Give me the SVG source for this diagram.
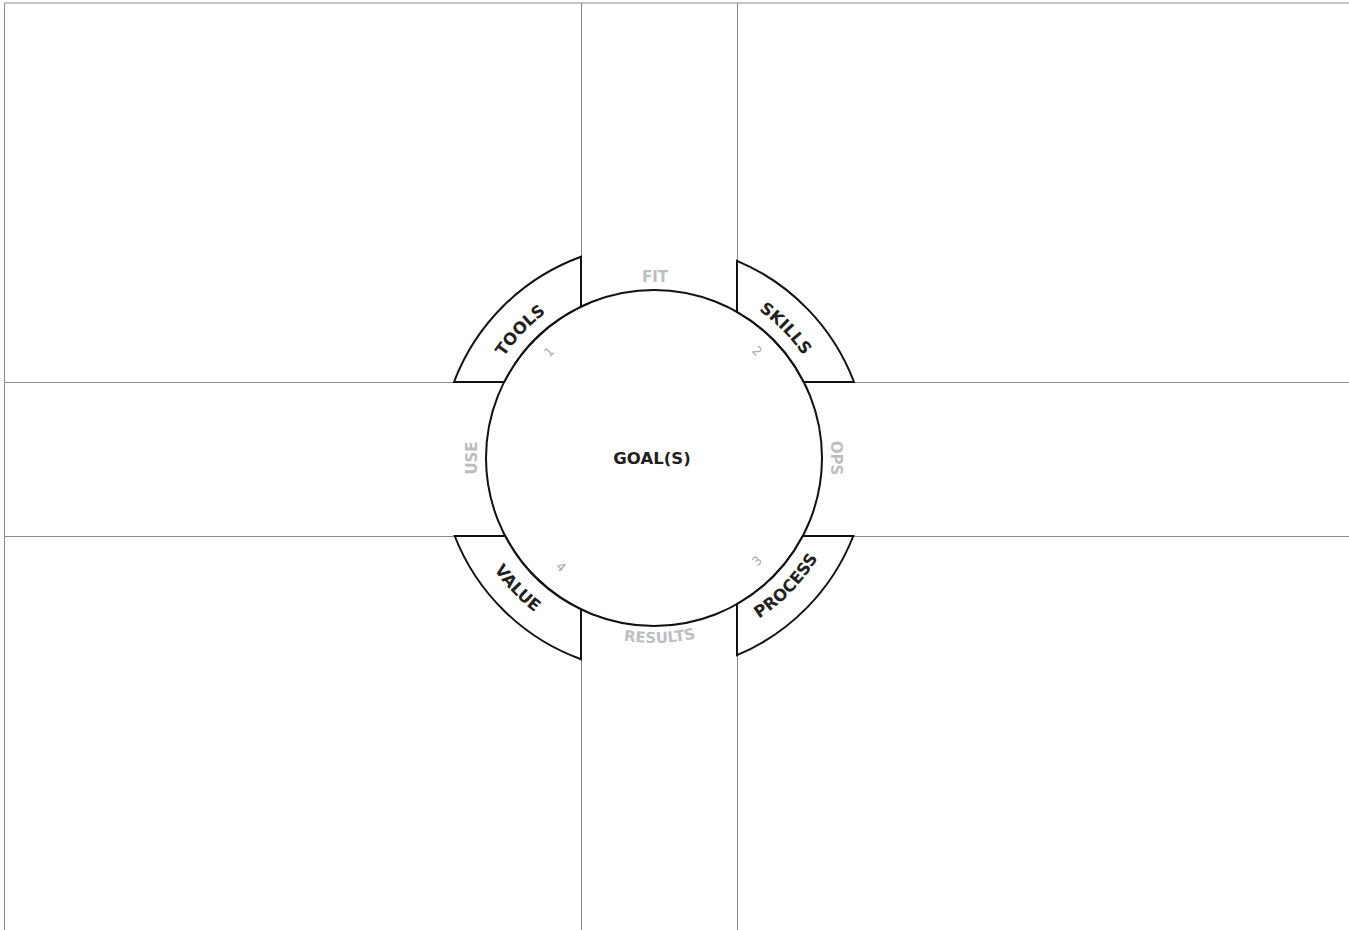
<svg xmlns="http://www.w3.org/2000/svg" width="1349" height="930" viewBox="0 0 1349 930">
<style>
.grid{stroke:#8a8a8a;stroke-width:1;fill:none}
.tab{fill:#fff;stroke:#111;stroke-width:2;stroke-linejoin:miter}
.ring{fill:#fff;stroke:#111;stroke-width:2}
.lbl{font-family:"DejaVu Sans","Noto Sans",sans-serif;font-weight:700;font-size:16.5px;fill:#231f20}
.gry{font-family:"DejaVu Sans","Noto Sans",sans-serif;font-weight:700;font-size:15px;fill:#bcbec0}
.num{font-family:"DejaVu Sans","Noto Sans",sans-serif;font-size:12.5px;fill:#a7a9ac;text-anchor:middle}
</style>
<defs>
<path id="pTools" d="M473,458 A181,181 0 0 1 654,277"/>
<path id="pSkills" d="M654,277 A181,181 0 0 1 835,458"/>
<path id="pValue" d="M459,458 A195,195 0 0 0 654,653"/>
<path id="pProcess" d="M654,650 A192,192 0 0 0 846,458"/>
<path id="pResults" d="M469,458 A185,185 0 0 0 839,458"/>
</defs>
<rect width="1349" height="930" fill="#fff"/>
<g id="connectors">
<line class="grid" x1="4.5" y1="3" x2="1349" y2="3"/>
<line class="grid" x1="4.5" y1="3" x2="4.5" y2="930"/>
<line class="grid" x1="581.5" y1="3" x2="581.5" y2="257"/>
<line class="grid" x1="581.5" y1="659" x2="581.5" y2="930"/>
<line class="grid" x1="737.5" y1="3" x2="737.5" y2="261"/>
<line class="grid" x1="737.5" y1="655" x2="737.5" y2="930"/>
<line class="grid" x1="4.5" y1="382.5" x2="454" y2="382.5"/>
<line class="grid" x1="854" y1="382.5" x2="1349" y2="382.5"/>
<line class="grid" x1="4.5" y1="536.5" x2="455" y2="536.5"/>
<line class="grid" x1="853" y1="536.5" x2="1349" y2="536.5"/>
</g>
<g id="goal">
<circle class="ring" cx="654" cy="458" r="168"/>
<text class="lbl" x="652" y="463.5" text-anchor="middle">GOAL(S)</text>
</g>
<g id="tools">
<path class="tab" d="M581,256.8 L581,306.7 A168,168 0 0 0 504.2,382 L454,382 A214,214 0 0 1 581,256.8 Z"/>
<text class="lbl" text-anchor="middle"><textPath href="#pTools" startOffset="48.5%">TOOLS</textPath></text>
<text class="num" transform="translate(552,355) rotate(-45)">1</text>
</g>
<g id="skills">
<path class="tab" d="M737,260.8 L737,311.9 A168,168 0 0 1 803.8,382 L854,382 A214,214 0 0 0 737,260.8 Z"/>
<text class="lbl" text-anchor="middle"><textPath href="#pSkills" startOffset="50.5%">SKILLS</textPath></text>
<text class="num" transform="translate(754,354) rotate(45)">2</text>
</g>
<g id="process">
<path class="tab" d="M853.3,536 L802.8,536 A168,168 0 0 1 737,604.1 L737,655.2 A214,214 0 0 0 853.3,536 Z"/>
<text class="lbl" text-anchor="middle"><textPath href="#pProcess" startOffset="51%">PROCESS</textPath></text>
<text class="num" transform="translate(760,564) rotate(-45)">3</text>
</g>
<g id="value">
<path class="tab" d="M454.7,536 L505.2,536 A168,168 0 0 0 581,609.3 L581,659.2 A214,214 0 0 1 454.7,536 Z"/>
<text class="lbl" text-anchor="middle"><textPath href="#pValue" startOffset="48.5%">VALUE</textPath></text>
<text class="num" transform="translate(558,570) rotate(45)">4</text>
</g>
<g id="fit"><text class="gry" x="655" y="282" text-anchor="middle">FIT</text></g>
<g id="use"><text class="gry" transform="translate(477,458) rotate(-90)" text-anchor="middle">USE</text></g>
<g id="ops"><text class="gry" transform="translate(831,458) rotate(90)" text-anchor="middle">OPS</text></g>
<g id="results"><text class="gry" text-anchor="middle"><textPath href="#pResults" startOffset="51%">RESULTS</textPath></text></g>
</svg>
